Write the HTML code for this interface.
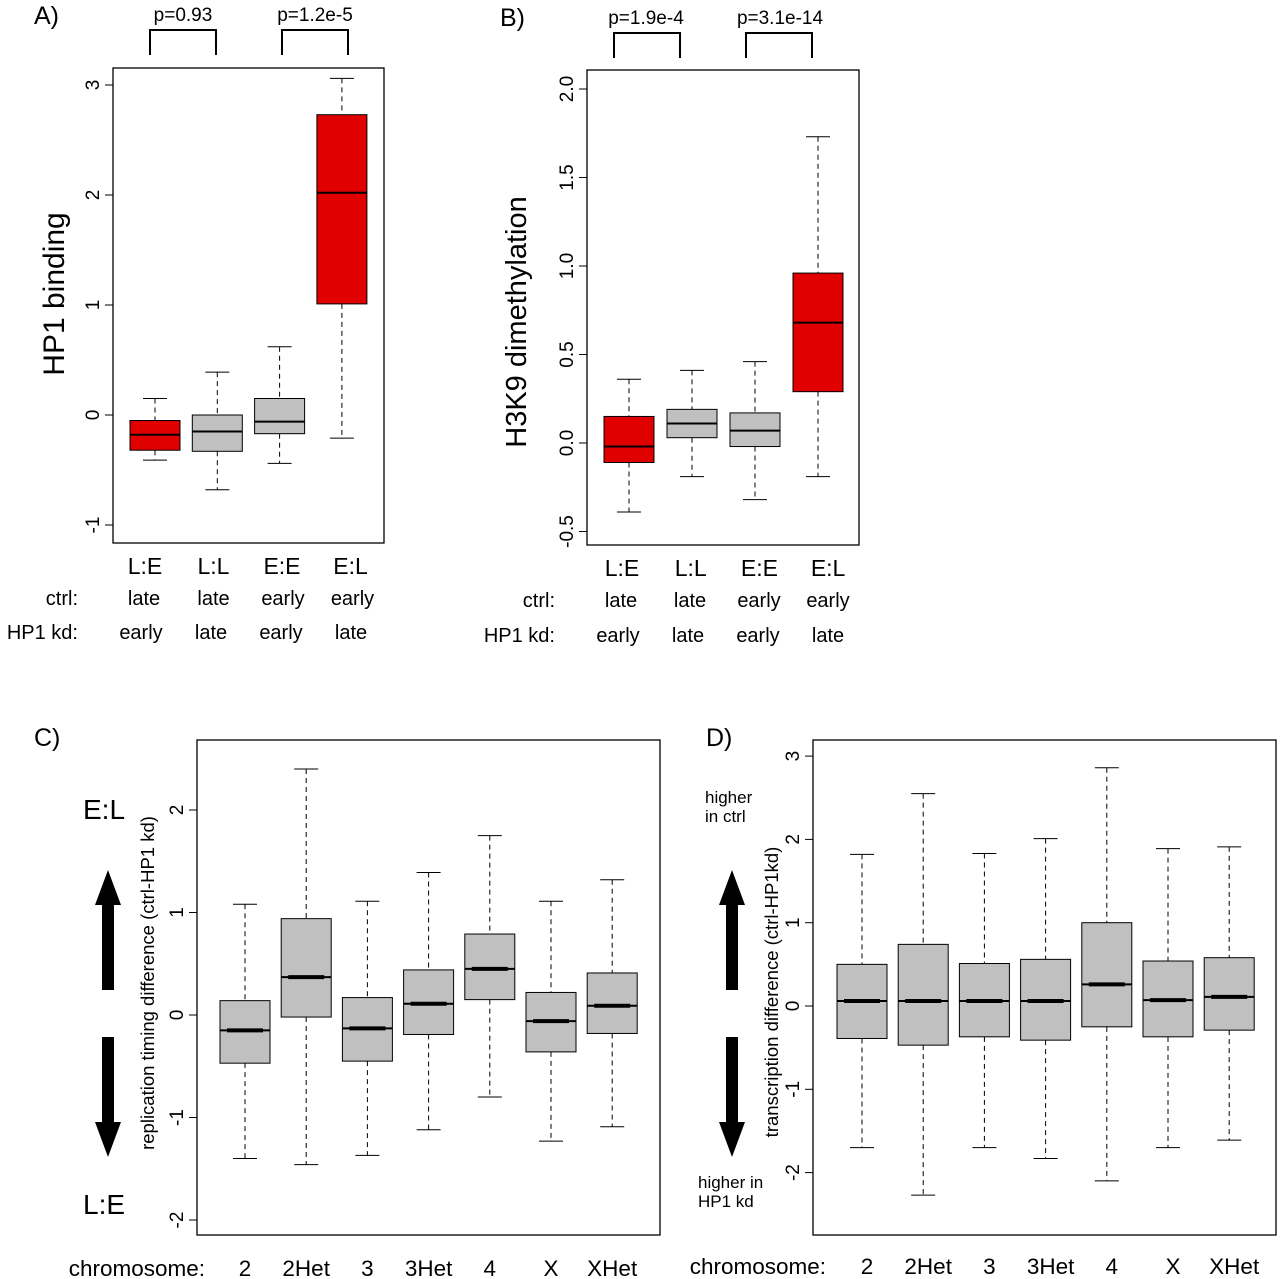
<!DOCTYPE html>
<html><head><meta charset="utf-8"><style>
body{margin:0;background:#fff}
svg{display:block;font-family:"Liberation Sans",sans-serif}
</style></head><body>
<svg id="s" width="1280" height="1279" viewBox="0 0 1280 1279">
<g font-size="25">
<text x="34" y="24">A)</text><text x="500" y="26">B)</text><text x="34" y="746">C)</text><text x="706" y="746">D)</text>
</g>
<g font-size="19" text-anchor="middle" fill="none" stroke="#000" stroke-width="2">
<path d="M150,55V30H216V55M282,55V30H348V55M614,58V33H680V58M746,58V33H812V58"/>
<text x="183" y="21" fill="#000" stroke="none">p=0.93</text>
<text x="315" y="21" fill="#000" stroke="none">p=1.2e-5</text>
<text x="646" y="24" fill="#000" stroke="none">p=1.9e-4</text>
<text x="780" y="24" fill="#000" stroke="none">p=3.1e-14</text>
</g>
<text font-size="30" text-anchor="middle" transform="translate(64,294) rotate(-90)">HP1 binding</text>
<text font-size="29" text-anchor="middle" transform="translate(526,322) rotate(-90)">H3K9 dimethylation</text>
<text font-size="18.5" text-anchor="middle" transform="translate(154,983) rotate(-90)">replication timing difference (ctrl-HP1 kd)</text>
<text font-size="18.5" text-anchor="middle" transform="translate(778,992) rotate(-90)">transcription difference (ctrl-HP1kd)</text>
<g font-size="20" text-anchor="end">
<text x="78" y="605">ctrl:</text><text x="78" y="639">HP1 kd:</text>
<text x="555" y="607">ctrl:</text><text x="555" y="642">HP1 kd:</text>
<text x="205" y="1276" font-size="22.5">chromosome:</text><text x="826" y="1274" font-size="22.5">chromosome:</text>
</g>
<g>
<text x="83" y="819" font-size="28">E:L</text><text x="83" y="1214" font-size="28">L:E</text>
<text x="705" y="803" font-size="17">higher</text><text x="705" y="822" font-size="17">in ctrl</text>
<text x="698" y="1188" font-size="17">higher in</text><text x="698" y="1207" font-size="17">HP1 kd</text>
</g>
<g fill="#000">
<path d="M102,990V905H95L108,870L121,905H114V990Z"/><path d="M102,1037V1122H95L108,1157L121,1122H114V1037Z"/>
<path d="M726,990V905H719L732,870L745,905H738V990Z"/><path d="M726,1037V1122H719L732,1157L745,1122H738V1037Z"/>
</g>
</svg>
<script>
const catsA=["L:E","L:L","E:E","E:L"];
const ctrlA=["late","late","early","early"];
const kdA=["early","late","early","late"];
const colA=["#e00000","#c0c0c0","#c0c0c0","#e00000"];
const hiA=[0.15,0.39,0.62,3.06];
const q3A=[-0.05,0.0,0.15,2.73];
const medA=[-0.18,-0.15,-0.06,2.02];
const q1A=[-0.32,-0.33,-0.17,1.01];
const loA=[-0.41,-0.68,-0.44,-0.21];
const ticksA=[-1,0,1,2,3];

const catsB=["L:E","L:L","E:E","E:L"];
const hiB=[0.36,0.41,0.46,1.73];
const q3B=[0.15,0.19,0.17,0.96];
const medB=[-0.02,0.11,0.07,0.68];
const q1B=[-0.11,0.03,-0.02,0.29];
const loB=[-0.39,-0.19,-0.32,-0.19];
const ticksB=["-0.5","0.0","0.5","1.0","1.5","2.0"];

const chroms=["2","2Het","3","3Het","4","X","XHet"];
const hiC=[1.08,2.4,1.11,1.39,1.75,1.11,1.32];
const q3C=[0.14,0.94,0.17,0.44,0.79,0.22,0.41];
const medC=[-0.15,0.37,-0.13,0.11,0.45,-0.06,0.09];
const q1C=[-0.47,-0.02,-0.45,-0.19,0.15,-0.36,-0.18];
const loC=[-1.4,-1.46,-1.37,-1.12,-0.8,-1.23,-1.09];
const ticksC=[-2,-1,0,1,2];

const hiD=[1.82,2.55,1.83,2.01,2.86,1.89,1.91];
const q3D=[0.5,0.74,0.51,0.56,1.0,0.54,0.58];
const medD=[0.06,0.06,0.06,0.06,0.26,0.07,0.11];
const q1D=[-0.39,-0.47,-0.37,-0.41,-0.25,-0.37,-0.29];
const loD=[-1.7,-2.27,-1.7,-1.83,-2.1,-1.7,-1.61];
const ticksD=[-2,-1,0,1,2,3];

const NS="http://www.w3.org/2000/svg";
const svg=document.getElementById('s');
function el(t,a,p){const e=document.createElementNS(NS,t);for(const k in a)e.setAttribute(k,a[k]);(p||svg).appendChild(e);return e;}
function panel(name,box,y,x0,dx,bw,cats,hi,q3,med,q1,lo,cols,ticks,tickFs,catFs,catY,medW,lx0,ldx){
  const g=el('g',{});
  
  
  const r=el('rect',{x:box[0],y:box[1],width:box[2]-box[0],height:box[3]-box[1],fill:'none',stroke:'#000','stroke-width':1.3},g);
  
  
  ticks.forEach(t=>{const v=parseFloat(t),yy=y(v);
    const tl=el('line',{x1:box[0]-8,x2:box[0],y1:yy,y2:yy,stroke:'#000'},g);
    
    
    const tx=el('text',{'font-size':tickFs,'text-anchor':'middle',transform:`translate(${box[0]-14},${yy}) rotate(-90)`},g);
    tx.textContent=String(t);
    
    
  });
  cats.forEach((c,i)=>{const cx=x0+i*dx,h=bw/2;
    const b=el('g',{},g);
    
    
    el('line',{x1:cx,x2:cx,y1:y(hi[i]),y2:y(q3[i]),stroke:'#000','stroke-dasharray':'5,4'},b);
    el('line',{x1:cx,x2:cx,y1:y(q1[i]),y2:y(lo[i]),stroke:'#000','stroke-dasharray':'5,4'},b);
    el('line',{x1:cx-12,x2:cx+12,y1:y(hi[i]),y2:y(hi[i]),stroke:'#000'},b);
    el('line',{x1:cx-12,x2:cx+12,y1:y(lo[i]),y2:y(lo[i]),stroke:'#000'},b);
    el('rect',{x:cx-h,y:y(q3[i]),width:bw,height:y(q1[i])-y(q3[i]),fill:cols[i],stroke:'#000'},b);
    el('line',{x1:cx-h,x2:cx+h,y1:y(med[i]),y2:y(med[i]),stroke:'#000','stroke-width':2},b);
    if(medW) el('line',{x1:cx-18,x2:cx+18,y1:y(med[i]),y2:y(med[i]),stroke:'#000','stroke-width':4},b);
    const t=el('text',{x:lx0+i*ldx,y:catY,'font-size':catFs,'text-anchor':'middle'},g);
    t.textContent=c;
    
    
  });
}
function rowLabels(x0,dx,arr,yy){arr.forEach((c,i)=>{const t=el('text',{x:x0+i*dx,y:yy,'font-size':20,'text-anchor':'middle'});t.textContent=c;
  
  });}
const yA=v=>415-v*110, yB=v=>443-v*177, yC=v=>1015-v*102.5, yD=v=>1006-v*83.3;
panel('panel-a',[113,68,384,543],yA,155,62.3,50,catsA,hiA,q3A,medA,q1A,loA,colA,ticksA,19,23,574,false,145,68.5);
rowLabels(144,69.5,ctrlA,605);rowLabels(141,70,kdA,639);
panel('panel-b',[587,70,859,545],yB,629,63,50,catsB,hiB,q3B,medB,q1B,loB,colA,ticksB,19,23,576,false,622,68.7);
rowLabels(621,69,ctrlA,607);rowLabels(618,70,kdA,642);
const grey=chroms.map(()=>'#c0c0c0');
panel('panel-c',[197,740,660,1235],yC,245,61.2,50,chroms,hiC,q3C,medC,q1C,loC,grey,ticksC,19,22.5,1276,true,245,61.2);
panel('panel-d',[813,740,1276,1235],yD,862,61.2,50,chroms,hiD,q3D,medD,q1D,loD,grey,ticksD,19,22.5,1274,true,867,61.2);
</script>
</body></html>
